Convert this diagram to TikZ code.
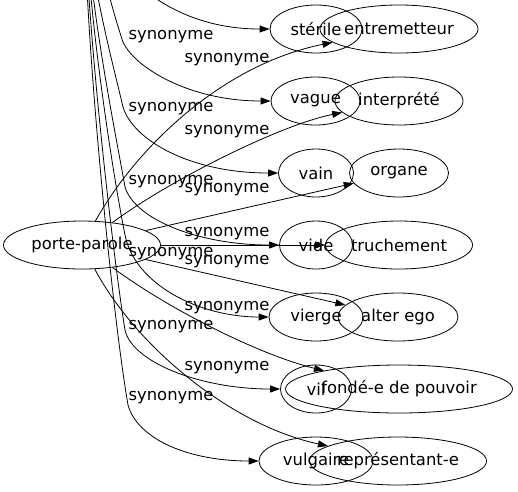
\documentclass[tikz,border=0pt]{standalone}
\usepackage{fontspec}
\setmainfont{DejaVu Sans}
\usetikzlibrary{arrows.meta,shapes.geometric}

\tikzset{
  word/.style={draw, shape=ellipse, minimum height=48pt, inner sep=0pt},
  lbl/.style={inner sep=0pt},
  syn/.style={-{Triangle[length=10pt,width=7pt]}},
}

\begin{document}
\begin{tikzpicture}[x=1pt,y=-1pt,line width=0.8pt,font=\fontsize{16.4}{18}\selectfont]
\useasboundingbox (0,0) rectangle (518,491);
\clip (0,0) rectangle (518,491);
\coordinate (src) at (85,-100);
\draw (82, 245) node[word, minimum width=157pt] (pp) {porte-parole};
\draw (316, 29) node[word, minimum width=92pt] (sterile) {stérile};
\draw (399, 29) node[word, minimum width=158pt] (entremetteur) {entremetteur};
\draw (315.5, 101) node[word, minimum width=89pt] (vague) {vague};
\draw (399, 101) node[word, minimum width=128pt] (interprete) {interprété};
\draw (316, 173) node[word, minimum width=75pt] (vain) {vain};
\draw (399, 173) node[word, minimum width=99pt] (organe) {organe};
\draw (316, 245) node[word, minimum width=73pt] (vide) {vide};
\draw (399, 245) node[word, minimum width=147pt] (truchement) {truchement};
\draw (316, 317) node[word, minimum width=94pt] (vierge) {vierge};
\draw (398, 317) node[word, minimum width=120pt] (alterego) {alter ego};
\draw (316, 389) node[word, minimum width=71pt] (vil) {vil};
\draw (399, 389) node[word, minimum width=227pt] (fonde) {fondé-e de pouvoir};
\draw (316, 461) node[word, minimum width=114pt] (vulgaire) {vulgaire};
\draw (398, 461) node[word, minimum width=177pt] (representant) {représentant-e};
% labels
\draw (171, 37) node[lbl] (s1) {synonyme};
\draw (227, 60) node[lbl] (s2) {synonyme};
\draw (171, 109) node[lbl] (s3) {synonyme};
\draw (227, 132) node[lbl] (s4) {synonyme};
\draw (171, 182) node[lbl] (s5) {synonyme};
\draw (227, 190) node[lbl] (s6) {synonyme};
\draw (227, 234) node[lbl] (s7) {synonyme};
\draw (171, 254) node[lbl] (s8) {synonyme};
\draw (227, 262) node[lbl] (s9) {synonyme};
\draw (227, 308) node[lbl] (s10) {synonyme};
\draw (171, 327) node[lbl] (s11) {synonyme};
\draw (227, 368) node[lbl] (s12) {synonyme};
\draw (171, 398) node[lbl] (s13) {synonyme};
% edges from above
\draw[syn] (src) .. controls (100,-40) and (160,29) .. (sterile);
\draw[syn] (src) .. controls (100,-40) and (112,10) .. (123,42) .. controls (135,68) and (190,101) .. (vague);
\draw[syn] (src) .. controls (90,-20) and (112,60) .. (123,107) .. controls (133,140) and (190,173) .. (vain);
\draw[syn] (src) .. controls (88,0) and (115,130) .. (125,187) .. controls (135,220) and (200,245) .. (vide);
\draw[syn] (src) .. controls (86,0) and (112,170) .. (125,235) .. controls (135,285) and (200,317) .. (vierge);
\draw[syn] (src) .. controls (84,0) and (112,250) .. (125,330) .. controls (132,362) and (200,389) .. (vil);
\draw[syn] (src) .. controls (82,0) and (110,300) .. (128,405) .. controls (138,440) and (190,461) .. (vulgaire);
% edges from porte-parole
\draw[syn] (pp) .. controls (135,150) and (220,65) .. (entremetteur);
\draw[syn] (pp) .. controls (170,180) and (280,125) .. (interprete);
\draw[syn] (pp) -- (organe);
\draw[syn] (pp) -- (truchement);
\draw[syn] (pp) -- (alterego);
\draw[syn] (pp) .. controls (170,310) and (260,355) .. (fonde);
\draw[syn] (pp) .. controls (135,345) and (230,425) .. (representant);
\end{tikzpicture}
\end{document}
